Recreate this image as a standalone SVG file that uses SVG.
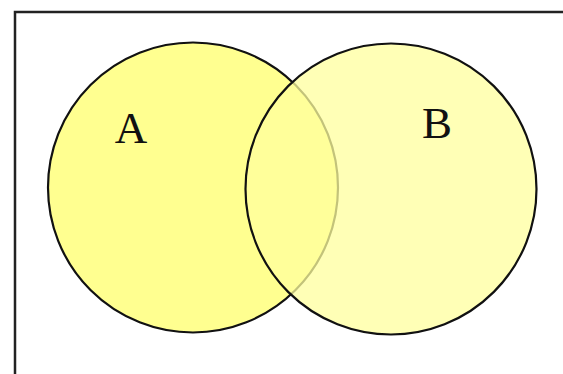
<svg xmlns="http://www.w3.org/2000/svg" width="563" height="374" viewBox="0 0 563 374">
<style>
.lbl{font-family:"Liberation Serif","Times New Roman",serif;font-size:45px;fill:#111}
</style>
<rect x="0" y="0" width="563" height="374" fill="#ffffff"/>
<path d="M15 374 V12 H563" fill="none" stroke="#222" stroke-width="2.5"/>
<g id="setA">
<circle cx="193" cy="187.5" r="145" fill="#ffff90" stroke="#111" stroke-width="2.2"/>
<text class="lbl" x="131" y="143" text-anchor="middle">A</text>
</g>
<g id="setB">
<circle cx="391" cy="189" r="145.5" fill="#ffff9e" fill-opacity="0.75" stroke="none"/>
<circle cx="391" cy="189" r="145.5" fill="none" stroke="#111" stroke-width="2.2"/>
<text class="lbl" x="437" y="138" text-anchor="middle">B</text>
</g>
<g id="connectors"/>
</svg>
